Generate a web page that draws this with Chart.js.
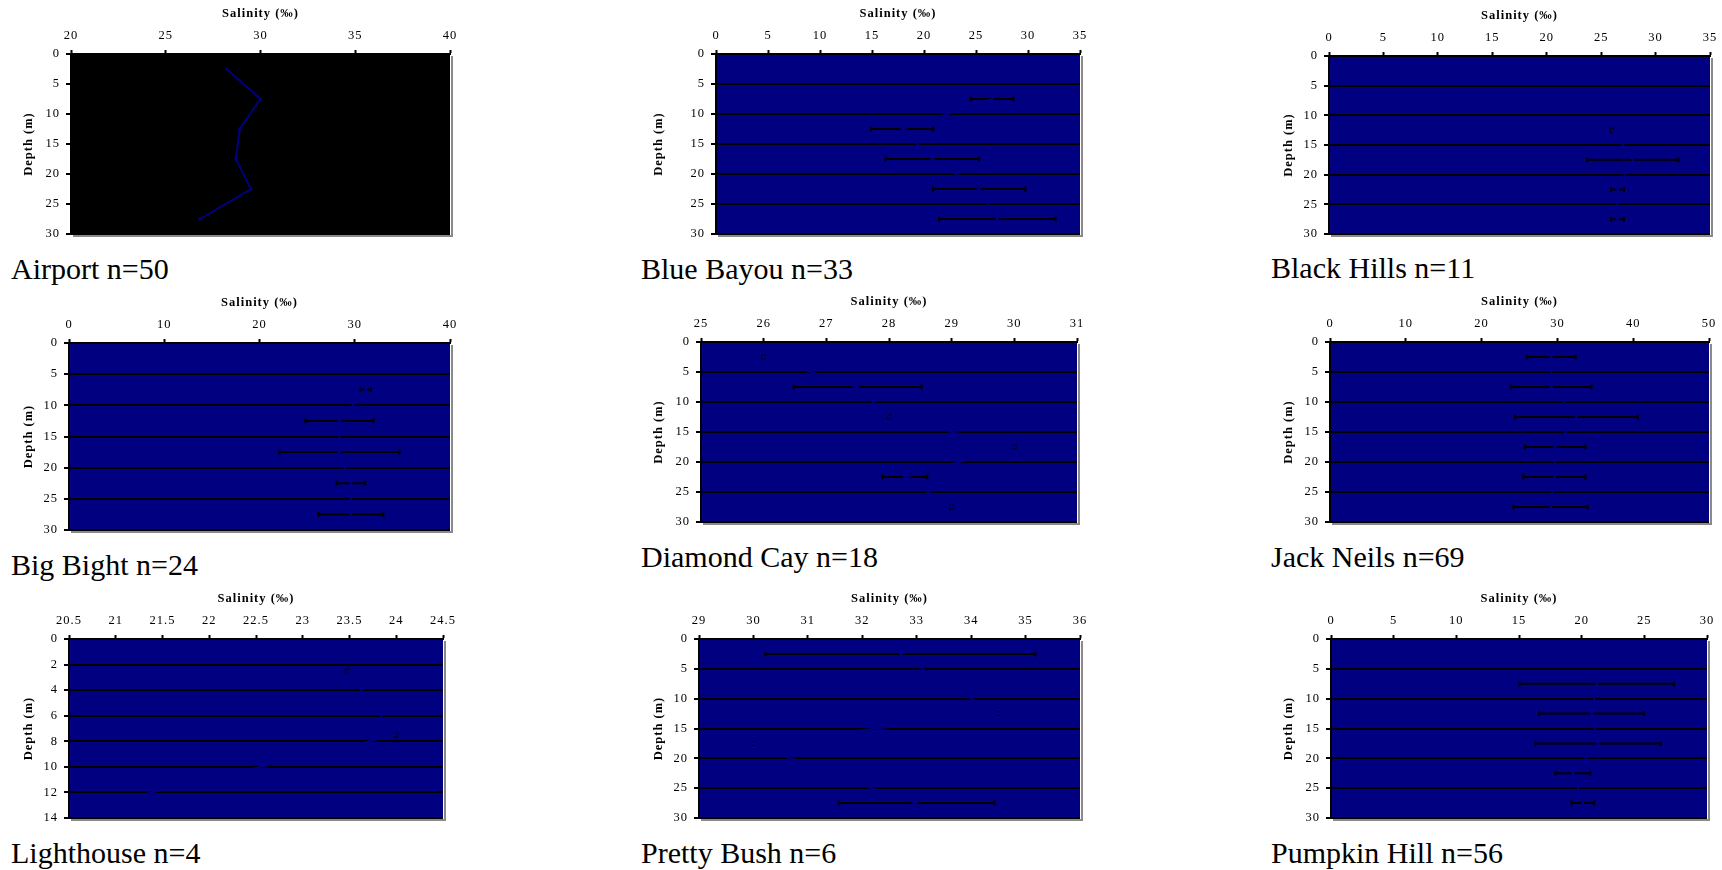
<!DOCTYPE html>
<html lang="en">
<head>
<meta charset="UTF-8">
<title>Salinity profiles by site</title>
<script src="https://cdn.jsdelivr.net/npm/chart.js"></script>
<style>
  body { margin: 0; background: #fff; width: 1722px; height: 870px; position: relative; overflow: hidden; font-family: "Liberation Serif", serif; }
  canvas { position: absolute; }
  .caption { position: absolute; font-size: 30px; line-height: 30px; white-space: nowrap; color: #000; }
</style>
</head>
<body>
<script>
// sample depths (m)
const depthAll = [2.5, 7.5, 12.5, 17.5, 22.5, 27.5];
const depthFrom7 = [7.5, 12.5, 17.5, 22.5, 27.5];
const depthFrom12 = [12.5, 17.5, 22.5, 27.5];
const depthLighthouse = [2.5, 7.5, 12.5];

// mean salinity and standard deviation per depth
const airportMean = [28.2, 30.0, 28.9, 28.7, 29.5, 26.8];
const airportSd = [0, 0, 0, 0, 0, 0];
const blueBayouMean = [26.55, 17.9, 20.8, 25.3, 27.05];
const blueBayouSd = [2.05, 3.0, 4.5, 4.45, 5.6];
const blackHillsMean = [26.0, 27.9, 26.5, 26.5];
const blackHillsSd = [0.1, 4.2, 0.6, 0.6];
const bigBightMean = [31.15, 28.4, 28.4, 29.6, 29.6];
const bigBightSd = [0.55, 3.6, 6.3, 1.5, 3.4];
const diamondCayMean = [26.0, 27.5, 28.0, 30.0, 28.25, 29.0];
const diamondCaySd = [0.02, 1.02, 0.02, 0.02, 0.36, 0.02];
const jackNeilsMean = [29.2, 29.2, 32.5, 29.7, 29.6, 29.1];
const jackNeilsSd = [3.2, 5.3, 8.1, 4.0, 4.1, 4.9];
const lighthouseMean = [23.47, 24.0, 21.1];
const lighthouseSd = [0.01, 0.01, 0];
const prettyBushMean = [32.7, 33.5, 34.5, 30.0, 31.35, 33.0];
const prettyBushSd = [2.48, 0, 0.01, 0.01, 0, 1.43];
const pumpkinHillMean = [21.2, 20.8, 21.3, 19.3, 20.1];
const pumpkinHillSd = [6.17, 4.2, 5.0, 1.4, 0.9];

const captions = ['Airport n=50', 'Blue Bayou n=33', 'Black Hills n=11', 'Big Bight n=24', 'Diamond Cay n=18',
                  'Jack Neils n=69', 'Lighthouse n=4', 'Pretty Bush n=6', 'Pumpkin Hill n=56'];

// salinity axis ranges [min, max, step]
const xRanges = [[20, 40, 5], [0, 35, 5], [0, 35, 5], [0, 40, 10], [25, 31, 1], [0, 50, 10], [20.5, 24.5, 0.5], [29, 36, 1], [0, 30, 5]];
// depth axis ranges [max, step]
const yRanges = [[30, 5], [30, 5], [30, 5], [30, 5], [30, 5], [30, 5], [14, 2], [30, 5], [30, 5]];

const series = [
  [depthAll, airportMean, airportSd],
  [depthFrom7, blueBayouMean, blueBayouSd],
  [depthFrom12, blackHillsMean, blackHillsSd],
  [depthFrom7, bigBightMean, bigBightSd],
  [depthAll, diamondCayMean, diamondCaySd],
  [depthAll, jackNeilsMean, jackNeilsSd],
  [depthLighthouse, lighthouseMean, lighthouseSd],
  [depthAll, prettyBushMean, prettyBushSd],
  [depthFrom7, pumpkinHillMean, pumpkinHillSd]
];

// page layout: column left, plot area left/right/top/bottom, caption baseline
const layout = [
  {col: 0, l: 71, r: 450, t: 54, b: 234, cap: 279},
  {col: 630, l: 716, r: 1080, t: 54, b: 234, cap: 279},
  {col: 1260, l: 1329, r: 1710, t: 56, b: 234, cap: 278},
  {col: 0, l: 69, r: 450, t: 343, b: 530, cap: 575},
  {col: 630, l: 701, r: 1077, t: 342, b: 522, cap: 567},
  {col: 1260, l: 1330, r: 1709, t: 342, b: 522, cap: 567},
  {col: 0, l: 69, r: 443, t: 639, b: 818, cap: 863},
  {col: 630, l: 699, r: 1080, t: 639, b: 818, cap: 863},
  {col: 1260, l: 1331, r: 1707, t: 639, b: 818, cap: 863}
];

const NAVY = '#000080';
const AXIS_H = 54, PAD_R = 14, PAD_B = 12;
const serif = '"Liberation Serif", "Times New Roman", serif';

// plot background, error bars and the grey edge of the plot area
const plotStyle = {
  id: 'plotStyle',
  beforeDraw(chart, args, opts) {
    const {ctx, chartArea: a} = chart;
    ctx.letterSpacing = '1px';
    ctx.save();
    ctx.fillStyle = opts.bg;
    ctx.fillRect(a.left, a.top, a.right - a.left, a.bottom - a.top);
    ctx.restore();
  },
  beforeDatasetsDraw(chart, args, opts) {
    const {ctx} = chart;
    const xs = chart.scales.x, ys = chart.scales.y;
    ctx.save();
    ctx.strokeStyle = '#000';
    ctx.lineWidth = 2;
    opts.sd.forEach((sd, i) => {
      if (!sd) return;
      const m = opts.mean[i];
      const x1 = xs.getPixelForValue(m - sd), x2 = xs.getPixelForValue(m + sd);
      const y = ys.getPixelForValue(opts.depth[i]);
      ctx.beginPath();
      ctx.moveTo(x1, y); ctx.lineTo(x2, y);
      ctx.moveTo(x1, y - 2.5); ctx.lineTo(x1, y + 2.5);
      ctx.moveTo(x2, y - 2.5); ctx.lineTo(x2, y + 2.5);
      ctx.stroke();
    });
    ctx.restore();
  },
  afterDraw(chart) {
    const {ctx, chartArea: a} = chart;
    ctx.save();
    ctx.fillStyle = '#8a8a8a';
    ctx.fillRect(a.right + 1, a.top + 2, 2, a.bottom - a.top + 1);
    ctx.fillRect(a.left + 2, a.bottom + 1, a.right - a.left + 1, 2);
    ctx.restore();
  }
};

series.forEach(([depth, mean, sd], i) => {
  const p = layout[i];
  const [xMin, xMax, xStep] = xRanges[i];
  const [yMax, yStep] = yRanges[i];

  const canvas = document.createElement('canvas');
  canvas.width = p.r - p.col + PAD_R;
  canvas.height = p.b - p.t + AXIS_H + PAD_B;
  canvas.style.left = p.col + 'px';
  canvas.style.top = (p.t - AXIS_H) + 'px';
  document.body.appendChild(canvas);

  const cap = document.createElement('div');
  cap.className = 'caption';
  cap.textContent = captions[i];
  cap.style.left = (p.col + 11) + 'px';
  cap.style.top = (p.cap - 25) + 'px';
  document.body.appendChild(cap);

  new Chart(canvas, {
    type: 'scatter',
    data: {
      datasets: [{
        data: depth.map((d, k) => ({x: mean[k], y: d})),
        showLine: true,
        borderColor: NAVY,
        borderWidth: 2,
        pointStyle: 'rect',
        pointRadius: 2,
        pointBackgroundColor: NAVY,
        pointBorderColor: NAVY,
        pointBorderWidth: 0
      }]
    },
    options: {
      responsive: false,
      animation: false,
      devicePixelRatio: 1,
      layout: {padding: {left: 0, top: 0, right: PAD_R, bottom: PAD_B}},
      plugins: {
        legend: {display: false},
        tooltip: {enabled: false},
        plotStyle: {bg: i === 0 ? '#000000' : NAVY, depth, mean, sd}
      },
      scales: {
        x: {
          type: 'linear',
          position: 'top',
          min: xMin, max: xMax,
          afterFit: s => { s.height = AXIS_H; s.paddingLeft = 0; s.paddingRight = 0; },
          ticks: {stepSize: xStep, autoSkip: false, maxRotation: 0, padding: 7, color: '#000',
                  font: {family: serif, size: 12.5}, callback: v => String(v)},
          grid: {drawOnChartArea: false, drawTicks: true, tickLength: 4, tickWidth: 2, color: '#000'},
          border: {display: true, color: '#000', width: 2},
          title: {display: true, text: 'Salinity (‰)', color: '#000', padding: {top: 6.5, bottom: 0},
                  font: {family: serif, size: 12.5, weight: 'bold'}}
        },
        y: {
          type: 'linear',
          reverse: true,
          min: 0, max: yMax,
          afterFit: s => { s.width = p.l - p.col; s.paddingTop = 0; s.paddingBottom = 0; },
          ticks: {stepSize: yStep, autoSkip: false, padding: 6, color: '#000',
                  font: {family: serif, size: 12.5}, callback: v => String(v)},
          grid: {drawOnChartArea: true, drawTicks: true, tickLength: 5, lineWidth: 2, color: '#000'},
          border: {display: true, color: '#000', width: 2},
          title: {display: true, text: 'Depth (m)', color: '#000', padding: {top: 21.5, bottom: 0},
                  font: {family: serif, size: 12.5, weight: 'bold'}}
        }
      }
    },
    plugins: [plotStyle]
  });
});
</script>
</body>
</html>
